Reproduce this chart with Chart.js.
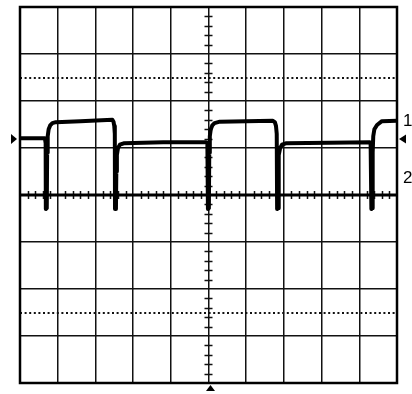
<!DOCTYPE html>
<html>
<head>
<meta charset="utf-8">
<script src="https://cdn.jsdelivr.net/npm/chart.js@4.4.1/dist/chart.umd.min.js"></script>
<style>
  html, body { margin: 0; padding: 0; background: #fff; }
  canvas { display: block; }
</style>
</head>
<body>
<canvas id="scope" width="412" height="394"></canvas>
<script>
// Screen in divisions: 10 across, 8 high, 0 at the centre line
const xDivs = [0, 10];
const yDivs = [-4, 4];

// Channel 1 trace (x in div, y in div)
const ch1X = [0, 0.66, 0.68, 0.685, 0.71, 0.72, 0.735, 0.76, 0.80, 0.86, 0.95, 1.6, 2.45, 2.48, 2.50, 2.515, 2.52,
  2.545, 2.555, 2.57, 2.60, 2.65, 2.75, 3.8, 4.94, 4.97, 4.985,
  5.01, 5.02, 5.035, 5.06, 5.10, 5.16, 5.3, 6.7, 6.76, 6.79, 6.81, 6.82,
  6.845, 6.855, 6.87, 6.90, 6.95, 7.05, 8.2, 9.28, 9.30, 9.32,
  9.345, 9.355, 9.37, 9.40, 9.47, 9.6, 10];
const ch1Y = [1.21, 1.21, 1.10, -0.30, -0.28, 0.9, 1.25, 1.40, 1.48, 1.53, 1.55, 1.57, 1.60, 1.56, 1.47, 1.30, -0.30,
  -0.28, 0.5, 0.85, 1.0, 1.07, 1.10, 1.12, 1.12, 1.10, -0.30,
  -0.28, 0.9, 1.25, 1.40, 1.48, 1.53, 1.56, 1.58, 1.55, 1.47, 1.30, -0.30,
  -0.28, 0.5, 0.85, 1.0, 1.07, 1.10, 1.11, 1.12, 1.10, -0.30,
  -0.28, 0.9, 1.25, 1.40, 1.49, 1.57, 1.58];

// Channel 2 trace: flat at ground
const ch2X = [0, 10];
const ch2Y = [0, 0];

// Dotted reference lines and markers
const dottedLevels = [2.5, -2.5];
const ch1Marker = 1.19;
const trigMarker = 1.19;
const channelLabels = ['1', '2'];
const channelLabelY = [1.57, 0.36];

function toPoints(xs, ys) {
  return xs.map((x, i) => ({ x: x, y: ys[i] }));
}

const scopeDecor = {
  id: 'scopeDecor',
  beforeDatasetsDraw(chart) {
    const ctx = chart.ctx;
    const xs = chart.scales.x, ys = chart.scales.y;
    const area = chart.chartArea;
    ctx.save();
    // dotted lines
    ctx.strokeStyle = '#111';
    ctx.lineWidth = 2;
    ctx.setLineDash([2, 2.6]);
    dottedLevels.forEach(v => {
      const py = Math.round(ys.getPixelForValue(v));
      ctx.beginPath();
      ctx.moveTo(area.left, py);
      ctx.lineTo(area.right, py);
      ctx.stroke();
    });
    ctx.setLineDash([]);
    // minor ticks on centre lines
    ctx.lineWidth = 1.5;
    const cx = xs.getPixelForValue(5), cy = ys.getPixelForValue(0);
    ctx.beginPath();
    for (let i = 1; i < 50; i++) {
      if (i % 5 === 0) continue;
      const px = Math.round(xs.getPixelForValue(i / 5)) + 0.5;
      ctx.moveTo(px, cy - 4);
      ctx.lineTo(px, cy + 4);
    }
    for (let i = 1; i < 40; i++) {
      if (i % 5 === 0) continue;
      const py = Math.round(ys.getPixelForValue(-4 + i / 5)) + 0.5;
      ctx.moveTo(cx - 4, py);
      ctx.lineTo(cx + 4, py);
    }
    ctx.stroke();
    ctx.restore();
  },
  afterDraw(chart) {
    const ctx = chart.ctx;
    const xs = chart.scales.x, ys = chart.scales.y;
    const area = chart.chartArea;
    ctx.save();
    // outer frame
    ctx.strokeStyle = '#000';
    ctx.lineWidth = 2.5;
    ctx.strokeRect(area.left, area.top, area.right - area.left, area.bottom - area.top);
    // markers
    ctx.fillStyle = '#000';
    let py = ys.getPixelForValue(ch1Marker);
    ctx.beginPath();
    ctx.moveTo(11, py - 5);
    ctx.lineTo(17, py);
    ctx.lineTo(11, py + 5);
    ctx.closePath();
    ctx.fill();
    py = ys.getPixelForValue(trigMarker);
    ctx.beginPath();
    ctx.moveTo(406, py - 4.5);
    ctx.lineTo(399, py);
    ctx.lineTo(406, py + 4.5);
    ctx.closePath();
    ctx.fill();
    const bx = xs.getPixelForValue(5) + 2;
    ctx.beginPath();
    ctx.moveTo(bx, area.bottom + 2);
    ctx.lineTo(bx + 4.5, area.bottom + 8);
    ctx.lineTo(bx - 4.5, area.bottom + 8);
    ctx.closePath();
    ctx.fill();
    // channel labels
    ctx.font = '17px "Liberation Sans", Arial, sans-serif';
    ctx.textAlign = 'left';
    ctx.textBaseline = 'middle';
    channelLabels.forEach((t, i) => {
      ctx.fillText(t, 403, ys.getPixelForValue(channelLabelY[i]));
    });
    ctx.restore();
  }
};

new Chart(document.getElementById('scope').getContext('2d'), {
  type: 'scatter',
  data: {
    datasets: [
      {
        label: 'CH2',
        data: toPoints(ch2X, ch2Y),
        showLine: true,
        borderColor: '#000',
        borderWidth: 3,
        pointRadius: 0
      },
      {
        label: 'CH1',
        data: toPoints(ch1X, ch1Y),
        showLine: true,
        borderColor: '#000',
        borderWidth: 4,
        borderJoinStyle: 'round',
        borderCapStyle: 'round',
        pointRadius: 0
      }
    ]
  },
  options: {
    responsive: false,
    animation: false,
    events: [],
    layout: { padding: { left: 20, right: 15, top: 7, bottom: 11 } },
    plugins: { legend: { display: false }, tooltip: { enabled: false } },
    scales: {
      x: {
        type: 'linear',
        min: xDivs[0], max: xDivs[1],
        ticks: { display: false, stepSize: 1 },
        grid: { drawTicks: false, color: '#111', lineWidth: 1.5 },
        border: { display: false }
      },
      y: {
        type: 'linear',
        min: yDivs[0], max: yDivs[1],
        ticks: { display: false, stepSize: 1 },
        grid: { drawTicks: false, color: '#111', lineWidth: 1.5 },
        border: { display: false }
      }
    }
  },
  plugins: [scopeDecor]
});
</script>
</body>
</html>
